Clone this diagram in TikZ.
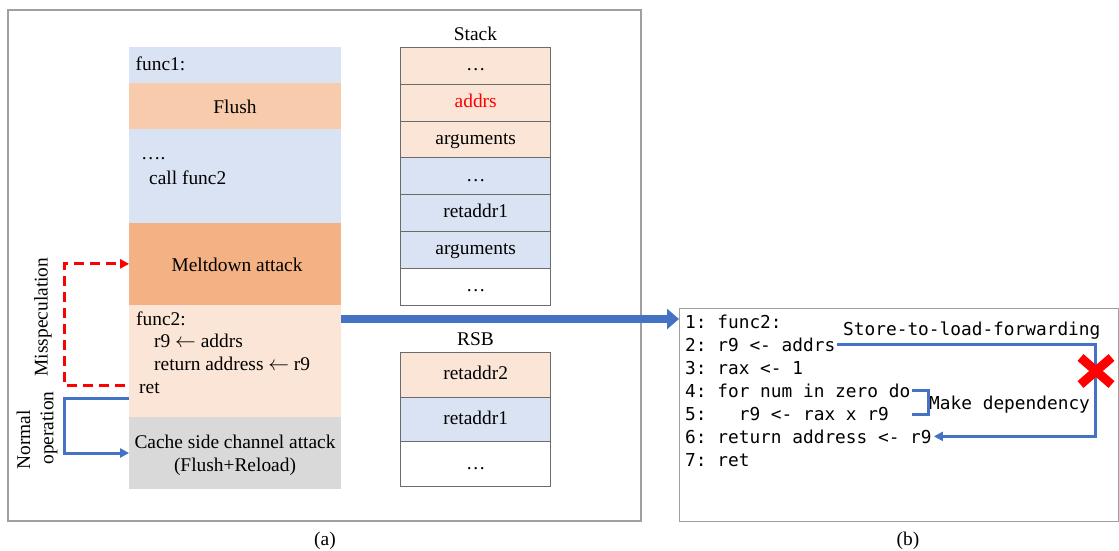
\documentclass[tikz,border=0pt]{standalone}
\usepackage{fontspec}
\setmainfont{Liberation Serif}
\newfontfamily\codefont{DejaVu Sans Mono}
\usetikzlibrary{arrows.meta,shapes.misc}
\definecolor{lblue}{HTML}{DAE3F3}
\definecolor{lorange}{HTML}{FBE5D6}
\definecolor{flushc}{HTML}{F8CBAD}
\definecolor{meltc}{HTML}{F4B183}
\definecolor{cgray}{HTML}{D9D9D9}
\definecolor{lineblue}{HTML}{4472C4}
\definecolor{framegray}{HTML}{A0A0A0}
\definecolor{cellgray}{HTML}{6B6B6B}
\begin{document}
\begin{tikzpicture}[x=1pt,y=-1pt,
  txt/.style={font=\fontsize{19.4}{24}\selectfont, inner sep=0pt},
  blk/.style={txt, draw=none, minimum width=211.4, anchor=center},
  cell/.style={txt, draw=cellgray, line width=1, minimum width=150, minimum height=36.86,
    text height=0.94em, text depth=0em},
  rcell/.style={cell, minimum height=44.67},
  code/.style={font=\codefont\fontsize{17.8}{23}\selectfont\frenchspacing, anchor=base west, inner sep=2pt},
  frame/.style={draw=framegray, line width=1.2},
  tipS/.style={-{Triangle[length=9pt,width=9pt]}},
]
\useasboundingbox (0,0) rectangle (1119,550);

% panels
\draw[frame] (8,10) rectangle (641,521);
\node[draw=framegray, line width=1.2, minimum width=439, minimum height=213, inner sep=0, anchor=north west] (panelB) at (679,308) {};

% left column
\node[blk, fill=lblue, minimum height=36] (f1) at (235,64.7) {};
\node[blk, fill=flushc, minimum height=46.6] (flush) at (235,106) {};
\node[blk, fill=lblue, minimum height=93.4] (call) at (235,176) {};
\node[blk, fill=meltc, minimum height=82.3] (melt) at (235,263.85) {};
\node[blk, fill=lorange, minimum height=111.7] (f2) at (235,360.85) {};
\node[blk, fill=cgray, minimum height=72.6] (cache) at (235,453) {};

\node[txt, anchor=base] (flusht) at (235,113.5) {Flush};
\node[txt, anchor=base] (meltt) at (237,271.5) {Meltdown attack};
\node[txt, anchor=base] (cachea) at (235,448.5) {Cache side channel attack};
\node[txt, anchor=base] (cacheb) at (235,471.5) {(Flush+Reload)};

\node[txt, anchor=base west] (f1t) at (135.5,70.5) {func1:};
\node[txt, anchor=base west] (dots1) at (141,159) {….};
\node[txt, anchor=base west] (callt) at (149,184.5) {call func2};
\node[txt, anchor=base west] (f2a) at (136,325) {func2:};
\node[txt, anchor=base west] (f2b) at (154,347) {r9 $\leftarrow$ addrs};
\node[txt, anchor=base west] (f2c) at (154,370.5) {return address $\leftarrow$ r9};
\node[txt, anchor=base west] (f2d) at (139,393) {ret};

% stack
\node[txt] (stackt) at (475.5,34) {Stack};
\node[cell, fill=lorange] (s1) at (475.7,65.7) {…};
\node[cell, fill=lorange, text=red] (s2) at (475.7,102.6) {addrs};
\node[cell, fill=lorange] (s3) at (475.7,139.5) {arguments};
\node[cell, fill=lblue] (s4) at (475.7,176.3) {…};
\node[cell, fill=lblue] (s5) at (475.7,213.2) {retaddr1};
\node[cell, fill=lblue] (s6) at (475.7,250.0) {arguments};
\node[cell, fill=white] (s7) at (475.7,286.9) {…};

% RSB
\node[txt] (rsbt) at (475.5,339) {RSB};
\node[rcell, fill=lorange] (r1) at (475.7,375.0) {retaddr2};
\node[rcell, fill=lblue] (r2) at (475.7,419.7) {retaddr1};
\node[rcell, fill=white] (r3) at (475.7,464.3) {…};

% side labels
\node[txt, rotate=90] (missp) at (43,317) {Misspeculation};
\node[txt, rotate=90] (normal) at (23.5,440) {Normal};
\node[txt, rotate=90] (oper) at (49,428) {operation};

% side connectors
\draw[red, line width=3, dash pattern=on 10pt off 6pt, tipS]
  ([xshift=-4]f2.west |- 0,385) -- (64,385) |- (melt.west);
\draw[lineblue, line width=3, tipS]
  (f2.west |- 0,398) -- (64,398) |- (cache.west);

% big arrow
\draw[lineblue, line width=8, -{Triangle[length=12pt,width=20pt]}]
  (f2.east |- 0,319) -- (panelB.west |- 0,319);

% code
\node[code] (l1) at (683,328) {1: func2:};
\node[code] (l2) at (683,351) {2: r9 <- addrs};
\node[code] (l3) at (683,374) {3: rax <- 1};
\node[code] (l4) at (683,397.5) {4: for num in zero do};
\node[code] (l5) at (683,420.5) {5:\ \ \ r9 <- rax x r9};
\node[code] (l6) at (683,443) {6: return address <- r9};
\node[code] (l7) at (683,466) {7: ret};

\node[code] (stl) at (841,335) {Store-to-load-forwarding};
\node[code] (mkd) at (927,409) {Make dependency};

\draw[lineblue, line width=3, tipS]
  (l2.east) -- (1095,0 |- l2.east) |- (l6.east);
\draw[lineblue, line width=3]
  (l4.east) -- ++(16,0) -- ++(0,23.3) -- ++(-16,0);

\node[cross out, draw=red, line width=9, minimum width=22, minimum height=18, inner sep=0] (xmark) at (1096,371) {};

% captions
\node[txt] (capa) at (325,541) {(a)};
\node[txt] (capb) at (908,541) {(b)};
\end{tikzpicture}
\end{document}
